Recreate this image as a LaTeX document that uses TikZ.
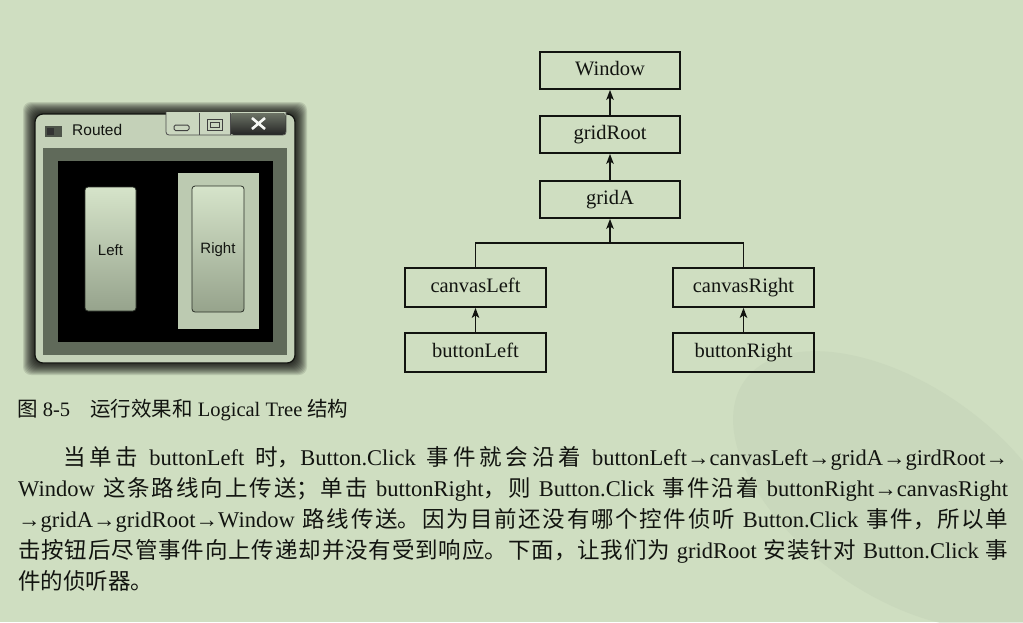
\documentclass[tikz,border=0pt]{standalone}
\usepackage{fontspec}
\setmainfont{Liberation Serif}
\setsansfont{Liberation Sans}
\newfontfamily\cjk{Noto Sans CJK SC}
\usetikzlibrary{arrows.meta}
\XeTeXlinebreaklocale "zh"
\XeTeXlinebreakskip=0pt plus 2pt
\newcommand{\zh}[1]{{\cjk #1}}
\definecolor{paper}{RGB}{207,222,193}
\definecolor{winframe}{RGB}{196,209,184}
\definecolor{winclient}{RGB}{96,106,90}
\definecolor{btntop}{RGB}{214,228,202}
\definecolor{btnbot}{RGB}{150,163,140}
\definecolor{canvasgray}{RGB}{188,202,177}
\definecolor{inkdark}{RGB}{18,20,16}
\definecolor{seal}{RGB}{194,209,182}

\begin{document}
\begin{tikzpicture}[x=1pt,y=-1pt,>={Stealth[length=10pt,width=7.5pt,inset=2.5pt]},
    treebox/.style={draw=inkdark,line width=1.8pt,minimum width=140pt,minimum height=37pt,inner sep=0pt,text height=14.5pt,text depth=4.5pt,text=inkdark,font=\fontsize{20.5}{24}\selectfont},
    link/.style={draw=inkdark,line width=1.5pt},
    wintext/.style={inner sep=0pt,text=inkdark,font=\sffamily\fontsize{15}{18}\selectfont},
    wpbutton/.style={draw=black!55!winclient,line width=0.8pt,rounded corners=3pt,top color=btntop,bottom color=btnbot}]
    \useasboundingbox[fill=paper](0,0)rectangle(1023,622);
    \fill[seal,opacity=0.45,rotate around={-35:(900,490)}](900,490)ellipse(190 and 105);
    % window screenshot
    \foreach \d in {1,...,12}
        \fill[black,opacity=0.11,rounded corners=8pt](35-\d,114-\d)rectangle(295+\d,363+\d);
    \draw[fill=winframe,draw=inkdark,line width=1.2pt,rounded corners=8pt](35,114)rectangle(295,363);
    \fill[black!60!winframe](45,126)rectangle(62,137);
    \fill[black!80](47,128)rectangle(54,135);
    \node[wintext,anchor=west,font=\sffamily\fontsize{15.5}{18}\selectfont](title)at(72,130){Routed};
    \draw[fill=winframe!90!white,draw=black!70,line width=0.8pt,rounded corners=3pt](166,112)--(166,135)--(286,135)--(286,112);
    \fill[top color=black!45!winframe,bottom color=black!85,rounded corners=3pt](230.5,113)--(230.5,134.5)--(285.5,134.5)--(285.5,113)--cycle;
    \draw[black!70,line width=0.8pt](199,113)--(199,135)(230,113)--(230,135);
    \draw[black!75,line width=1pt,rounded corners=1.5pt](174,125)rectangle(189,130.5);
    \draw[black!75,line width=1pt](207,119)rectangle(222,130);
    \draw[black!75,line width=0.8pt](210,122)rectangle(219,127);
    \draw[white!85!winframe,line width=2.6pt](252,118)--(265,129)(252,129)--(265,118);
    \fill[winclient](43,148)rectangle(287,355);
    \fill[black](58,161)rectangle(273,342);
    \fill[canvasgray](178,173)rectangle(259,329);
    \draw[wpbutton](85,187)rectangle(136,311);
    \draw[wpbutton](192,186)rectangle(244,312);
    \node[wintext](Left)at(110.5,250){Left};
    \node[wintext](Right)at(218,250){Right};
    % logical tree
    \node[treebox](Window)at(610,70.5){Window};
    \node[treebox](gridRoot)at(610,134.5){gridRoot};
    \node[treebox](gridA)at(610,199.5){gridA};
    \node[treebox,minimum width=141pt,minimum height=39pt](canvasLeft)at(475.5,287.5){canvasLeft};
    \node[treebox,minimum width=141pt,minimum height=39pt](canvasRight)at(743.5,287.5){canvasRight};
    \node[treebox,minimum width=141pt,minimum height=39pt](buttonLeft)at(475.5,352.5){buttonLeft};
    \node[treebox,minimum width=141pt,minimum height=39pt](buttonRight)at(743.5,352.5){buttonRight};
    \coordinate(fork)at(610,243);
    \draw[link,->](gridRoot)--(Window);
    \draw[link,->](gridA)--(gridRoot);
    \draw[link,->](fork)--(gridA);
    \draw[link,->](buttonLeft)--(canvasLeft);
    \draw[link,->](buttonRight)--(canvasRight);
    \draw[link](canvasLeft.north)|-(fork)-|(canvasRight.north);
    % caption and text
    \node[anchor=west,inner sep=0pt,text=inkdark,font=\fontsize{20.5}{24}\selectfont](caption)at(17,410){\zh{图} 8-5\hspace{20pt}\zh{运行效果和} Logical Tree \zh{结构}};
    \node[anchor=north west,inner sep=0pt,text width=990pt,align=justify,text=inkdark,font=\fontsize{22.5}{31}\selectfont](para)at(18,446){%
        \hspace*{45pt}\zh{当单击} buttonLeft \zh{时，}Button.Click \zh{事件就会沿着} buttonLeft→canvasLeft→gridA→girdRoot→\linebreak
        Window \zh{这条路线向上传送；单击} buttonRight\zh{，则} Button.Click \zh{事件沿着} buttonRight→canvasRight\linebreak
        →gridA→gridRoot→Window \zh{路线传送。因为目前还没有哪个控件侦听} Button.Click \zh{事件，所以单}\linebreak
        \zh{击按钮后尽管事件向上传递却并没有受到响应。下面，让我们为} gridRoot \zh{安装针对} Button.Click \zh{事}\linebreak
        \zh{件的侦听器。}};
\end{tikzpicture}
\end{document}
